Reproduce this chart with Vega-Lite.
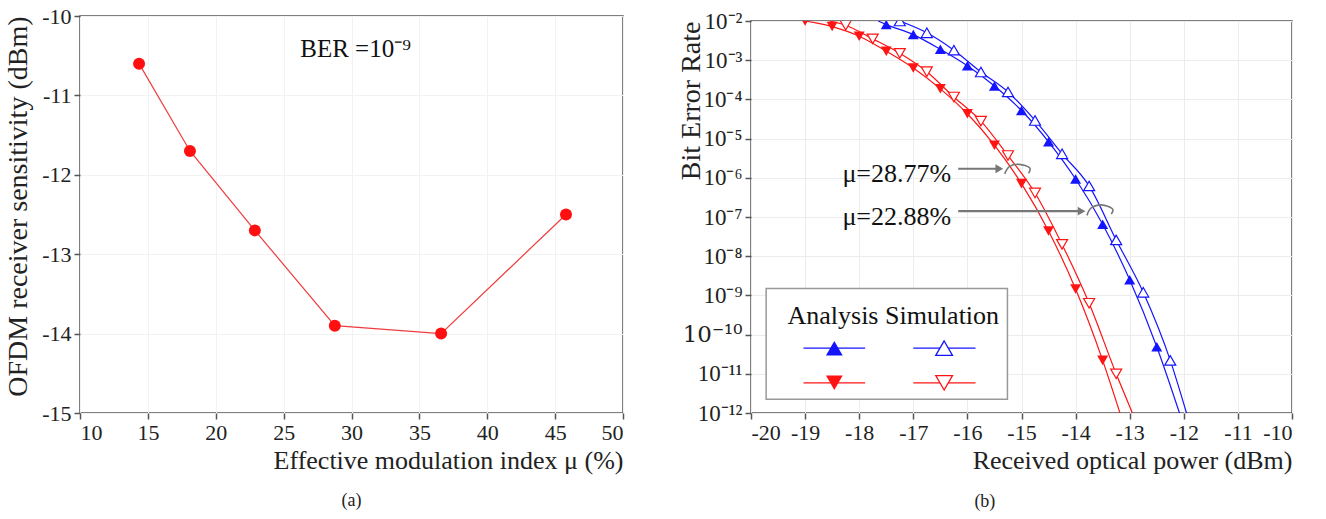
{
  "$schema": "https://vega.github.io/schema/vega-lite/v6.json",
  "background": "white",
  "padding": {"left": 3, "top": 4, "right": 5, "bottom": 5},
  "config": {
    "font": "Liberation Serif",
    "view": {"stroke": "#555", "strokeWidth": 1.5},
    "axis": {
      "labelFont": "Liberation Serif", "titleFont": "Liberation Serif",
      "labelFontSize": 22, "titleFontSize": 26, "labelColor": "#222", "titleColor": "#222",
      "titleFontWeight": "normal", "domain": false, "tickColor": "#555", "tickSize": 6,
      "tickWidth": 1.5, "labelPadding": 3, "gridColor": "#ececec", "gridWidth": 1
    },
    "title": {"font": "Liberation Serif", "fontSize": 18, "fontWeight": "normal", "color": "#222"}
  },
  "datasets": {
    "sens": [
      {"mu": 14.35, "s": -10.6}, {"mu": 18.1, "s": -11.7}, {"mu": 22.88, "s": -12.7},
      {"mu": 28.77, "s": -13.9}, {"mu": 36.6, "s": -14.0}, {"mu": 45.8, "s": -12.5}
    ],
    "ber": [
      {"curve": "bA", "mu": "22.88%", "kind": "A", "P": -17.65, "ber": 0.01, "m": 0},
      {"curve": "bA", "mu": "22.88%", "kind": "A", "P": -17.5, "ber": 0.0081, "m": 1},
      {"curve": "bA", "mu": "22.88%", "kind": "A", "P": -17.0, "ber": 0.0045, "m": 1},
      {"curve": "bA", "mu": "22.88%", "kind": "A", "P": -16.5, "ber": 0.0019, "m": 1},
      {"curve": "bA", "mu": "22.88%", "kind": "A", "P": -16.0, "ber": 0.00072, "m": 1},
      {"curve": "bA", "mu": "22.88%", "kind": "A", "P": -15.5, "ber": 0.00022, "m": 1},
      {"curve": "bA", "mu": "22.88%", "kind": "A", "P": -15.0, "ber": 5.2e-5, "m": 1},
      {"curve": "bA", "mu": "22.88%", "kind": "A", "P": -14.5, "ber": 8.3e-6, "m": 1},
      {"curve": "bA", "mu": "22.88%", "kind": "A", "P": -14.0, "ber": 9.3e-7, "m": 1},
      {"curve": "bA", "mu": "22.88%", "kind": "A", "P": -13.5, "ber": 6.5e-8, "m": 1},
      {"curve": "bA", "mu": "22.88%", "kind": "A", "P": -13.0, "ber": 2.5e-9, "m": 1},
      {"curve": "bA", "mu": "22.88%", "kind": "A", "P": -12.5, "ber": 4.9e-11, "m": 1},
      {"curve": "bA", "mu": "22.88%", "kind": "A", "P": -12.08, "ber": 1e-12, "m": 0},
      {"curve": "bS", "mu": "22.88%", "kind": "S", "P": -17.25, "ber": 0.01, "m": 1},
      {"curve": "bS", "mu": "22.88%", "kind": "S", "P": -16.75, "ber": 0.005, "m": 1},
      {"curve": "bS", "mu": "22.88%", "kind": "S", "P": -16.25, "ber": 0.0018, "m": 1},
      {"curve": "bS", "mu": "22.88%", "kind": "S", "P": -15.75, "ber": 0.0005, "m": 1},
      {"curve": "bS", "mu": "22.88%", "kind": "S", "P": -15.25, "ber": 0.000155, "m": 1},
      {"curve": "bS", "mu": "22.88%", "kind": "S", "P": -14.75, "ber": 2.9e-5, "m": 1},
      {"curve": "bS", "mu": "22.88%", "kind": "S", "P": -14.25, "ber": 4.1e-6, "m": 1},
      {"curve": "bS", "mu": "22.88%", "kind": "S", "P": -13.75, "ber": 6.2e-7, "m": 1},
      {"curve": "bS", "mu": "22.88%", "kind": "S", "P": -13.25, "ber": 2.6e-8, "m": 1},
      {"curve": "bS", "mu": "22.88%", "kind": "S", "P": -12.75, "ber": 1.2e-9, "m": 1},
      {"curve": "bS", "mu": "22.88%", "kind": "S", "P": -12.25, "ber": 2.2e-11, "m": 1},
      {"curve": "bS", "mu": "22.88%", "kind": "S", "P": -11.95, "ber": 1e-12, "m": 0},
      {"curve": "rA", "mu": "28.77%", "kind": "A", "P": -19.0, "ber": 0.01, "m": 1},
      {"curve": "rA", "mu": "28.77%", "kind": "A", "P": -18.5, "ber": 0.0072, "m": 1},
      {"curve": "rA", "mu": "28.77%", "kind": "A", "P": -18.0, "ber": 0.0041, "m": 1},
      {"curve": "rA", "mu": "28.77%", "kind": "A", "P": -17.5, "ber": 0.0017, "m": 1},
      {"curve": "rA", "mu": "28.77%", "kind": "A", "P": -17.0, "ber": 0.00063, "m": 1},
      {"curve": "rA", "mu": "28.77%", "kind": "A", "P": -16.5, "ber": 0.000186, "m": 1},
      {"curve": "rA", "mu": "28.77%", "kind": "A", "P": -16.0, "ber": 4.3e-5, "m": 1},
      {"curve": "rA", "mu": "28.77%", "kind": "A", "P": -15.5, "ber": 6.8e-6, "m": 1},
      {"curve": "rA", "mu": "28.77%", "kind": "A", "P": -15.0, "ber": 7.1e-7, "m": 1},
      {"curve": "rA", "mu": "28.77%", "kind": "A", "P": -14.5, "ber": 4.4e-8, "m": 1},
      {"curve": "rA", "mu": "28.77%", "kind": "A", "P": -14.0, "ber": 1.45e-9, "m": 1},
      {"curve": "rA", "mu": "28.77%", "kind": "A", "P": -13.5, "ber": 2.2e-11, "m": 1},
      {"curve": "rA", "mu": "28.77%", "kind": "A", "P": -13.18, "ber": 1e-12, "m": 0},
      {"curve": "rS", "mu": "28.77%", "kind": "S", "P": -18.55, "ber": 0.01, "m": 0},
      {"curve": "rS", "mu": "28.77%", "kind": "S", "P": -18.25, "ber": 0.0078, "m": 1},
      {"curve": "rS", "mu": "28.77%", "kind": "S", "P": -17.75, "ber": 0.0035, "m": 1},
      {"curve": "rS", "mu": "28.77%", "kind": "S", "P": -17.25, "ber": 0.0015, "m": 1},
      {"curve": "rS", "mu": "28.77%", "kind": "S", "P": -16.75, "ber": 0.00051, "m": 1},
      {"curve": "rS", "mu": "28.77%", "kind": "S", "P": -16.25, "ber": 0.000115, "m": 1},
      {"curve": "rS", "mu": "28.77%", "kind": "S", "P": -15.75, "ber": 2.8e-5, "m": 1},
      {"curve": "rS", "mu": "28.77%", "kind": "S", "P": -15.25, "ber": 3.7e-6, "m": 1},
      {"curve": "rS", "mu": "28.77%", "kind": "S", "P": -14.75, "ber": 4.1e-7, "m": 1},
      {"curve": "rS", "mu": "28.77%", "kind": "S", "P": -14.25, "ber": 2.0e-8, "m": 1},
      {"curve": "rS", "mu": "28.77%", "kind": "S", "P": -13.75, "ber": 6.3e-10, "m": 1},
      {"curve": "rS", "mu": "28.77%", "kind": "S", "P": -13.25, "ber": 1.0e-11, "m": 1},
      {"curve": "rS", "mu": "28.77%", "kind": "S", "P": -12.95, "ber": 1e-12, "m": 0}
    ],
    "legendMarks": [
      {"P": -18.46, "ber": 4.5e-11, "mu": "22.88%", "kind": "A"},
      {"P": -16.43, "ber": 4.5e-11, "mu": "22.88%", "kind": "S"},
      {"P": -18.46, "ber": 5.9e-12, "mu": "28.77%", "kind": "A"},
      {"P": -16.43, "ber": 5.9e-12, "mu": "28.77%", "kind": "S"}
    ],
    "legendLines": [
      {"P": -19.03, "P2": -17.89, "ber": 4.5e-11, "mu": "22.88%"},
      {"P": -17.0, "P2": -15.85, "ber": 4.5e-11, "mu": "22.88%"},
      {"P": -19.03, "P2": -17.89, "ber": 5.9e-12, "mu": "28.77%"},
      {"P": -17.0, "P2": -15.85, "ber": 5.9e-12, "mu": "28.77%"}
    ],
    "arcs": [
      {"arc": 1, "i": 0, "P": -15.31, "ber": 1.26e-6},
      {"arc": 1, "i": 1, "P": -15.22, "ber": 1.95e-6},
      {"arc": 1, "i": 2, "P": -15.04, "ber": 2.2e-6},
      {"arc": 1, "i": 3, "P": -14.85, "ber": 1.8e-6},
      {"arc": 1, "i": 4, "P": -14.87, "ber": 1.3e-6},
      {"arc": 2, "i": 0, "P": -13.79, "ber": 1.1e-7},
      {"arc": 2, "i": 1, "P": -13.71, "ber": 1.7e-7},
      {"arc": 2, "i": 2, "P": -13.52, "ber": 2.04e-7},
      {"arc": 2, "i": 3, "P": -13.32, "ber": 1.62e-7},
      {"arc": 2, "i": 4, "P": -13.34, "ber": 1.2e-7}
    ]
  },
  "spacing": 51,
  "hconcat": [
    {
      "width": 543,
      "height": 397,
      "title": {"text": "(a)", "orient": "bottom", "anchor": "middle", "offset": 19},
      "layer": [
        {
          "data": {"name": "sens"},
          "mark": {"type": "line", "color": "#f03c3c", "strokeWidth": 1.2},
          "encoding": {
            "x": {"field": "mu", "type": "quantitative", "scale": {"domain": [10, 50], "nice": false},
              "axis": {"title": "Effective modulation index μ (%)", "values": [10, 15, 20, 25, 30, 35, 40, 45, 50],
                "titleAnchor": "end", "labelExpr": "'' + datum.value", "gridColor": "#f2f2f2"}},
            "y": {"field": "s", "type": "quantitative", "scale": {"domain": [-15, -10], "nice": false},
              "axis": {"title": "OFDM receiver sensitivity (dBm)", "values": [-15, -14, -13, -12, -11, -10],
                "titleAnchor": "end", "titleX": -48, "titleFontSize": 28, "labelExpr": "'' + datum.value", "gridColor": "#f2f2f2"}}
          }
        },
        {
          "data": {"name": "sens"},
          "mark": {"type": "point", "filled": true, "shape": "circle", "size": 144, "color": "#ff1010", "opacity": 1},
          "encoding": {
            "x": {"field": "mu", "type": "quantitative"},
            "y": {"field": "s", "type": "quantitative"}
          }
        },
        {
          "data": {"values": [{"mu": 30.3, "s": -10.42, "label": "BER =10⁻⁹"}]},
          "mark": {"type": "text", "fontSize": 25, "align": "center", "baseline": "middle", "color": "#111"},
          "encoding": {
            "x": {"field": "mu", "type": "quantitative"},
            "y": {"field": "s", "type": "quantitative"},
            "text": {"field": "label"}
          }
        }
      ]
    },
    {
      "spacing": 4,
      "bounds": "flush",
      "title": {"text": "(b)", "orient": "bottom", "anchor": "middle", "offset": 19},
      "vconcat": [
        {
          "width": 541,
          "height": 1,
          "view": {"stroke": null},
          "data": {"values": [{"a": 1}]},
          "mark": {"type": "point", "opacity": 0}
        },
        {
          "width": 541,
          "height": 392,
          "layer": [
            {
              "data": {"values": [{"P": -19.72, "P2": -15.26, "ber": 1.5e-9, "ber2": 2.24e-12}]},
              "mark": {"type": "rect", "fill": "white", "stroke": "#999", "strokeWidth": 1.5},
              "encoding": {
                "x": {"field": "P", "type": "quantitative", "scale": {"domain": [-20, -10], "nice": false},
                  "axis": {"title": "Received optical power (dBm)", "values": [-20, -19, -18, -17, -16, -15, -14, -13, -12, -11, -10],
                    "titleAnchor": "end", "labelExpr": "'' + datum.value"}},
                "x2": {"field": "P2"},
                "y": {"field": "ber", "type": "quantitative", "scale": {"type": "log", "domain": [1e-12, 0.01], "nice": false},
                  "axis": {"title": "Bit Error Rate", "values": [0.01, 0.001, 0.0001, 1e-5, 1e-6, 1e-7, 1e-8, 1e-9, 1e-10, 1e-11, 1e-12],
                    "titleAnchor": "end", "titleX": -46, "titleFontSize": 28, "labelFontSize": 23,
                    "labelFont": {"condition": {"test": "datum.value > 5e-11 && datum.value < 5e-10", "value": "DejaVu Serif"}, "value": "Liberation Serif"},
                    "labelExpr": "'10⁻' + (-round(log(datum.value)/LN10) >= 10 ? '¹' : '') + ['⁰','¹','²','³','⁴','⁵','⁶','⁷','⁸','⁹'][(-round(log(datum.value)/LN10)) % 10]"}},
                "y2": {"field": "ber2"}
              }
            },
            {
              "data": {"values": [{"P": -17.37, "ber": 2.95e-10, "label": "Analysis Simulation"}]},
              "mark": {"type": "text", "fontSize": 26, "align": "center", "baseline": "middle", "color": "#111"},
              "encoding": {
                "x": {"field": "P", "type": "quantitative"},
                "y": {"field": "ber", "type": "quantitative"},
                "text": {"field": "label"}
              }
            },
            {
              "data": {"name": "legendLines"},
              "mark": {"type": "rule", "strokeWidth": 1.2},
              "encoding": {
                "x": {"field": "P", "type": "quantitative"},
                "x2": {"field": "P2"},
                "y": {"field": "ber", "type": "quantitative"},
                "color": {"field": "mu", "type": "nominal", "scale": {"domain": ["22.88%", "28.77%"], "range": ["#1414ff", "#ff1414"]}, "legend": null}
              }
            },
            {
              "data": {"name": "legendMarks"},
              "transform": [{"filter": "datum.kind == 'A'"}],
              "mark": {"type": "point", "filled": true, "size": 280, "opacity": 1},
              "encoding": {
                "x": {"field": "P", "type": "quantitative"},
                "y": {"field": "ber", "type": "quantitative"},
                "color": {"field": "mu", "type": "nominal", "legend": null},
                "shape": {"field": "mu", "type": "nominal", "scale": {"domain": ["22.88%", "28.77%"], "range": ["triangle-up", "triangle-down"]}, "legend": null}
              }
            },
            {
              "data": {"name": "legendMarks"},
              "transform": [{"filter": "datum.kind == 'S'"}],
              "mark": {"type": "point", "filled": false, "fill": "white", "size": 280, "opacity": 1, "strokeWidth": 1.3},
              "encoding": {
                "x": {"field": "P", "type": "quantitative"},
                "y": {"field": "ber", "type": "quantitative"},
                "color": {"field": "mu", "type": "nominal", "legend": null},
                "shape": {"field": "mu", "type": "nominal", "legend": null}
              }
            },
            {
              "data": {"name": "ber"},
              "mark": {"type": "line", "interpolate": "monotone", "strokeWidth": 1.2, "clip": true},
              "encoding": {
                "x": {"field": "P", "type": "quantitative"},
                "y": {"field": "ber", "type": "quantitative"},
                "detail": {"field": "curve"},
                "color": {"field": "mu", "type": "nominal", "legend": null}
              }
            },
            {
              "data": {"name": "ber"},
              "transform": [{"filter": "datum.m == 1 && datum.kind == 'A'"}],
              "mark": {"type": "point", "filled": true, "size": 121, "opacity": 1, "clip": true},
              "encoding": {
                "x": {"field": "P", "type": "quantitative"},
                "y": {"field": "ber", "type": "quantitative"},
                "color": {"field": "mu", "type": "nominal", "legend": null},
                "shape": {"field": "mu", "type": "nominal", "legend": null}
              }
            },
            {
              "data": {"name": "ber"},
              "transform": [{"filter": "datum.m == 1 && datum.kind == 'S'"}],
              "mark": {"type": "point", "filled": false, "fill": "white", "size": 121, "opacity": 1, "strokeWidth": 1.2, "clip": true},
              "encoding": {
                "x": {"field": "P", "type": "quantitative"},
                "y": {"field": "ber", "type": "quantitative"},
                "color": {"field": "mu", "type": "nominal", "legend": null},
                "shape": {"field": "mu", "type": "nominal", "legend": null}
              }
            },
            {
              "data": {"values": [
                {"P": -16.17, "P2": -15.45, "ber": 1.7e-6},
                {"P": -16.17, "P2": -13.93, "ber": 1.41e-7}
              ]},
              "mark": {"type": "rule", "color": "#777", "strokeWidth": 2.2},
              "encoding": {
                "x": {"field": "P", "type": "quantitative"},
                "x2": {"field": "P2"},
                "y": {"field": "ber", "type": "quantitative"}
              }
            },
            {
              "data": {"values": [
                {"P": -15.41, "ber": 1.7e-6},
                {"P": -13.89, "ber": 1.41e-7}
              ]},
              "mark": {"type": "point", "shape": "triangle-right", "filled": true, "size": 80, "color": "#777", "opacity": 1},
              "encoding": {
                "x": {"field": "P", "type": "quantitative"},
                "y": {"field": "ber", "type": "quantitative"}
              }
            },
            {
              "data": {"name": "arcs"},
              "mark": {"type": "line", "interpolate": "cardinal", "color": "#777", "strokeWidth": 1.6},
              "encoding": {
                "x": {"field": "P", "type": "quantitative"},
                "y": {"field": "ber", "type": "quantitative"},
                "detail": {"field": "arc"},
                "order": {"field": "i"}
              }
            },
            {
              "data": {"values": [
                {"P": -16.3, "ber": 1.26e-6, "label": "μ=28.77%"},
                {"P": -16.3, "ber": 1.0e-7, "label": "μ=22.88%"}
              ]},
              "mark": {"type": "text", "fontSize": 26, "align": "right", "baseline": "middle", "color": "#111"},
              "encoding": {
                "x": {"field": "P", "type": "quantitative"},
                "y": {"field": "ber", "type": "quantitative"},
                "text": {"field": "label"}
              }
            }
          ]
        }
      ]
    }
  ]
}
